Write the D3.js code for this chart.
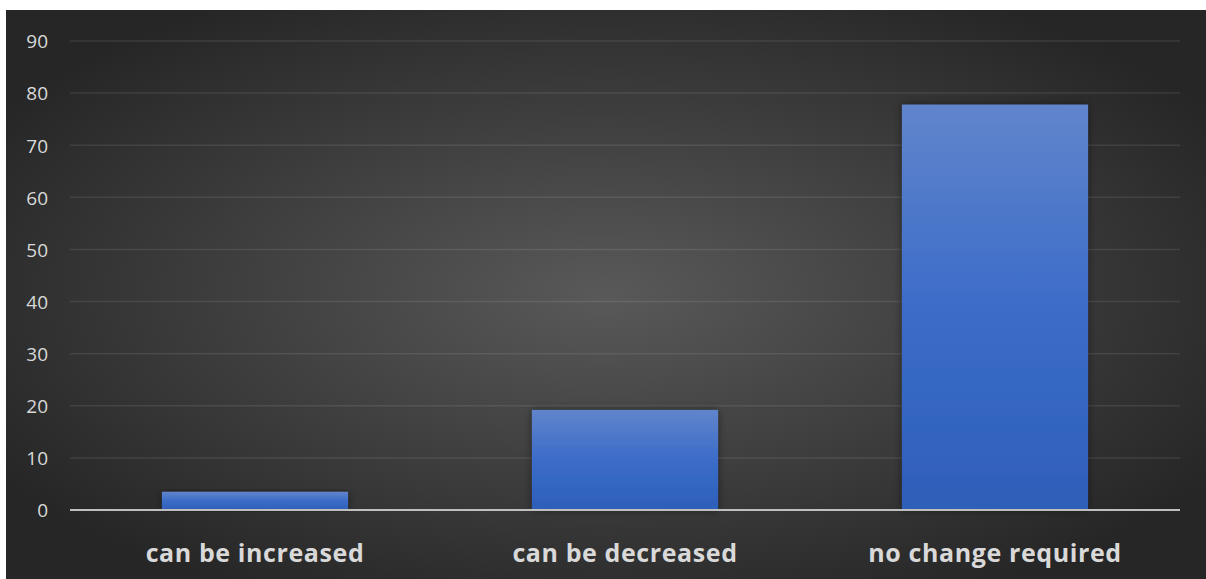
<!DOCTYPE html>
<html>
<head>
<meta charset="utf-8">
<script src="https://cdn.jsdelivr.net/npm/d3@7"></script>
<style>
  body { margin: 0; background: #fff; }
  svg { display: block; }
</style>
</head>
<body>
<div id="chart"></div>
<script>
// data
const categories = ["can be increased", "can be decreased", "no change required"];
const values = [3.5, 19.2, 77.8];
const yTicks = [0, 10, 20, 30, 40, 50, 60, 70, 80, 90];

const W = 1206, H = 579;
const panel = {x: 6, y: 10};
const margin = {top: 41, right: 26, bottom: 69, left: 70};

const svg = d3.select("#chart").append("svg")
  .attr("width", W)
  .attr("height", H);

const defs = svg.append("defs");

// background radial gradient
const bg = defs.append("radialGradient")
  .attr("id", "bg")
  .attr("cx", "50%").attr("cy", "50%").attr("r", "60%")
  .attr("gradientUnits", "objectBoundingBox");
bg.append("stop").attr("offset", "0%").attr("stop-color", "#595959");
bg.append("stop").attr("offset", "100%").attr("stop-color", "#262626");

// bar gradient
const barGrad = defs.append("linearGradient")
  .attr("id", "barGrad")
  .attr("x1", 0).attr("y1", 0).attr("x2", 0).attr("y2", 1);
barGrad.append("stop").attr("offset", "0%").attr("stop-color", "#6185cc");
barGrad.append("stop").attr("offset", "50%").attr("stop-color", "#3b6cc8");
barGrad.append("stop").attr("offset", "100%").attr("stop-color", "#2d5fb9");

const shadow = defs.append("filter").attr("id", "shadow")
  .attr("x", "-10%").attr("y", "-10%").attr("width", "120%").attr("height", "120%");
shadow.append("feDropShadow")
  .attr("dx", 0).attr("dy", 0).attr("stdDeviation", 4)
  .attr("flood-color", "#000").attr("flood-opacity", 0.45);

svg.append("rect")
  .attr("x", panel.x).attr("y", panel.y)
  .attr("width", W - panel.x).attr("height", H - panel.y)
  .attr("fill", "url(#bg)");

const x = d3.scaleBand()
  .domain(categories)
  .range([margin.left, W - margin.right])
  .paddingInner(0.497)
  .paddingOuter(0.2485);

const y = d3.scaleLinear()
  .domain([0, 90])
  .range([H - margin.bottom, margin.top]);

// gridlines
svg.append("g")
  .selectAll("line")
  .data(yTicks.slice(1))
  .join("line")
    .attr("x1", margin.left)
    .attr("x2", W - margin.right)
    .attr("y1", d => y(d))
    .attr("y2", d => y(d))
    .attr("stroke", "#ffffff")
    .attr("stroke-opacity", 0.09)
    .attr("stroke-width", 1.5);

// y axis labels
const yAxis = svg.append("g")
  .attr("transform", "translate(" + (margin.left - 22) + ",0)")
  .call(d3.axisLeft(y).tickValues(yTicks).tickSize(0).tickPadding(0));
yAxis.select(".domain").remove();
yAxis.selectAll("text")
  .attr("fill", "#d9d9d9")
  .style("font-family", "'Open Sans', sans-serif")
  .style("font-size", "19px")
  .attr("dy", "0.36em");

// bars
svg.append("g")
  .selectAll("rect")
  .data(values)
  .join("rect")
    .attr("x", (d, i) => x(categories[i]))
    .attr("y", d => y(d))
    .attr("width", x.bandwidth())
    .attr("height", d => y(0) - y(d))
    .attr("fill", "url(#barGrad)")
    .attr("filter", "url(#shadow)");

// baseline
svg.append("line")
  .attr("x1", margin.left)
  .attr("x2", W - margin.right)
  .attr("y1", y(0))
  .attr("y2", y(0))
  .attr("stroke", "#bfbfbf")
  .attr("stroke-width", 2);

// category labels
const xAxis = svg.append("g")
  .attr("transform", "translate(0," + y(0) + ")")
  .call(d3.axisBottom(x).tickSize(0).tickPadding(0));
xAxis.select(".domain").remove();
xAxis.selectAll("text")
  .attr("fill", "#d9d9d9")
  .style("font-family", "'Open Sans', sans-serif")
  .style("font-weight", "bold")
  .style("font-size", "25px")
  .style("letter-spacing", "0.6px")
  .attr("dy", null)
  .attr("y", 52);
</script>
</body>
</html>
